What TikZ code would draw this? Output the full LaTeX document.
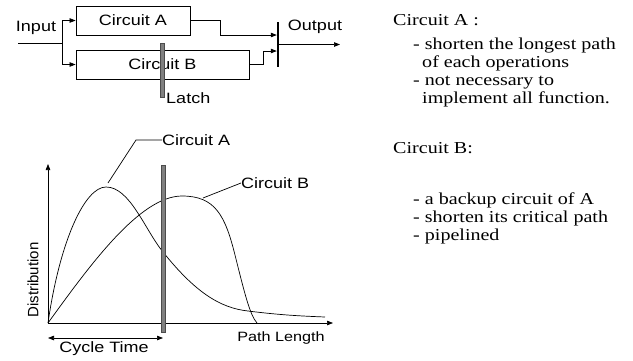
\documentclass[tikz,border=0pt]{standalone}
\usepackage{fontspec}
\setmainfont{Liberation Serif}
\setsansfont{Liberation Sans}
\usetikzlibrary{arrows.meta,positioning}

\begin{document}
\begin{tikzpicture}[
  x=1pt,y=-1pt,
  font=\sffamily\fontsize{15}{18}\selectfont,
  lbl/.style={xscale=1.2,inner sep=0pt},
  box/.style={draw,line width=.7pt,inner sep=0pt,xscale=1.2,minimum height=29pt},
  arr/.style={-{Triangle[length=6pt,width=4.5pt]},line width=.7pt},
  olatch/.style={fill=black,inner sep=0pt,minimum width=2pt},
  latchbar/.style={fill=gray,draw=gray!60!black,line width=.3pt,inner sep=0pt,minimum width=4pt},
  note/.style={font=\rmfamily\fontsize{16.7}{17.7}\selectfont,xscale=1.2,inner sep=0pt,align=left}
]
\useasboundingbox (0,0) rectangle (633,360);
% circuit A and B in parallel
\node[lbl] (input) at (36,28) {Input};
\node[box,minimum width=95pt] (ca) at (133,20.5) {Circuit A};
\node[box,minimum width=144.2pt] (cb) at (162.5,64.5) {Circuit B};
\coordinate (inL) at (18,43);
\coordinate (fork) at (62,43);
\draw[line width=.7pt] (inL) -- (fork);
\draw[arr] (fork) |- (ca.west);
\draw[arr] (fork) |- (cb.west);
\node[olatch,minimum height=45pt] (olat) at (278,44.5) {};
\draw[arr] (ca.east) -- ++(30,0) -- ++(0,14.5) -- ([yshift=9.5pt]olat.west);
\draw[arr] (cb.east) -- ++(14,0) |- ([yshift=-6.5pt]olat.west);
\coordinate (outR) at (340,44.5);
\draw[arr] (olat.east) -- (outR);
\node[lbl] (output) at (315,27) {Output};
\node[latchbar,minimum height=54pt] (latA) at (162,70) {};
\node[lbl,anchor=west] (latch) at (166,98) {Latch};
% distribution of path length
\coordinate (O) at (48,323);
\coordinate (ytop) at (48,164);
\coordinate (xend) at (333,323);
\draw[arr] (O) -- (ytop);
\draw[arr] (O) -- (xend);
\draw[line width=.7pt] (O) .. controls (60,240) and (85,187) .. (106,187)
  .. controls (130,187) and (145,230) .. (163,252)
  .. controls (195,292) and (220,308) .. (248,311)
  .. controls (280,315) and (300,316) .. (325,317);
\draw[line width=.7pt] (O) .. controls (90,265) and (140,196) .. (182,196)
  .. controls (215,196) and (225,215) .. (235,255)
  .. controls (245,295) and (250,315) .. (257,323);
\node[latchbar,minimum height=167pt] (latB) at (163,248.5) {};
\node[lbl,anchor=west] (lblA) at (162,140) {Circuit A};
\coordinate (tipA) at (108,183);
\draw[line width=.7pt] (lblA.west) -- ++(-26,0) -- (tipA);
\node[lbl,anchor=west] (lblB) at (241,183) {Circuit B};
\coordinate (tipB) at (203,198);
\draw[line width=.7pt] (lblB.west) -- (tipB);
\node[rotate=90,inner sep=0pt] (ylab) at (33,280) {Distribution};
\node[lbl,font=\sffamily\fontsize{13.5}{16}\selectfont] (xlab) at (281,338) {Path Length};
\coordinate (ctL) at (48,338);
\coordinate (ctR) at (163,338);
\draw[{Triangle[length=6pt,width=4.5pt]}-{Triangle[length=6pt,width=4.5pt]},line width=.7pt] (ctL) -- (ctR);
\node[lbl] (cycle) at (104,349) {Cycle Time};
% notes on the right (base = last line)
\node[note,anchor=base west] (headA) at (393,25) {Circuit A :};
\node[note,anchor=base west] (listA) at (413,103) {- shorten the longest path\\\hspace*{7.5pt}of each operations\\- not necessary to\\\hspace*{7.5pt}implement all function.};
\node[note,anchor=base west] (headB) at (393,153) {Circuit B:};
\node[note,anchor=base west] (listB) at (413,240) {- a backup circuit of A\\- shorten its critical path\\- pipelined};
\end{tikzpicture}
\end{document}
